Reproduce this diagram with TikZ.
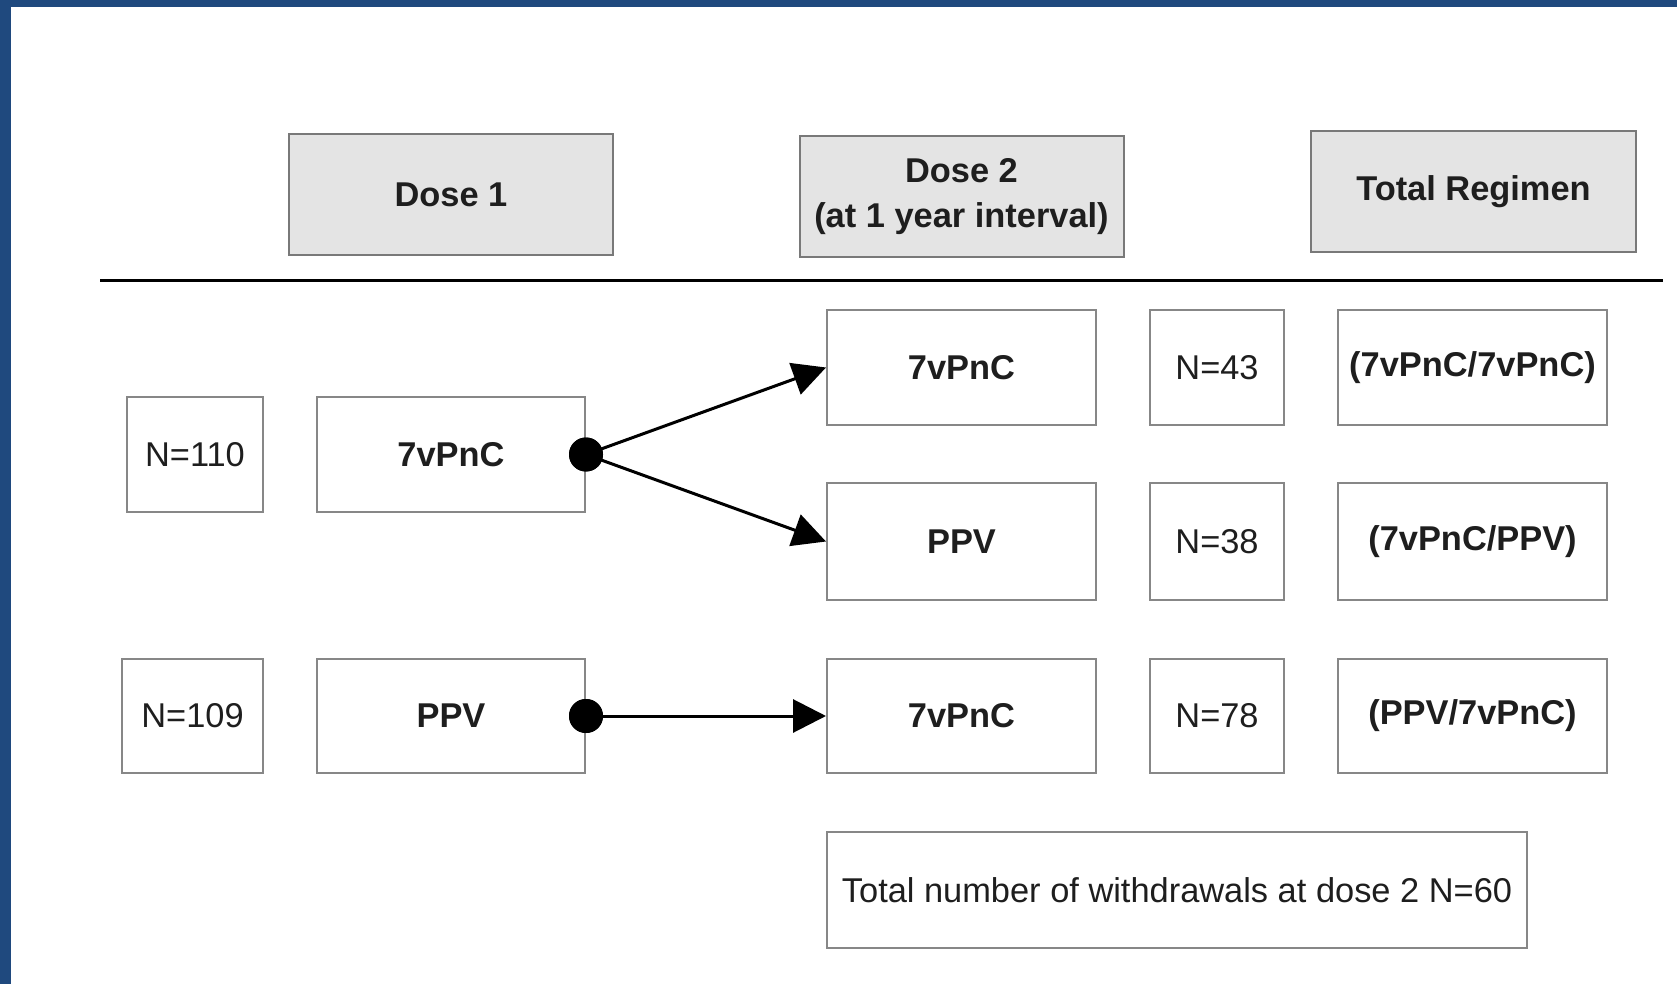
\documentclass[tikz,border=0pt]{standalone}
\usepackage{fontspec}
\setmainfont{Liberation Sans}
\usetikzlibrary{arrows.meta}
\definecolor{frameblue}{RGB}{31,73,126}
\definecolor{boxline}{RGB}{135,135,135}
\definecolor{headfill}{RGB}{228,228,228}
\definecolor{txt}{RGB}{30,30,30}
\begin{document}
\begin{tikzpicture}[x=0.5pt,y=-0.5pt,
  box/.style={draw=boxline, line width=1pt, fill=white, inner sep=0pt, align=center, text=txt, font=\fontsize{17.2}{22.5}\selectfont},
  boldbox/.style={box, font=\fontsize{17.2}{22.5}\selectfont\bfseries},
  headbox/.style={boldbox, fill=headfill, draw=boxline!90!black, minimum width=162pt, minimum height=60.5pt},
  colbox/.style={boldbox, minimum width=134.5pt},
  nbox/.style={box, minimum width=67pt},
  dotnode/.style={circle, fill=black, minimum size=17pt, inner sep=0pt},
  arr/.style={line width=1.5pt, -{Triangle[length=16.5pt, width=16.5pt]}}
]
\useasboundingbox (0,0) rectangle (1677,984);
\fill[white] (0,0) rectangle (1677,984);
\fill[frameblue] (0,0) rectangle (1677,7);
\fill[frameblue] (0,0) rectangle (11,984);

% headers
\node[headbox] (d1h) at (451,194.5) {Dose 1};
\node[headbox] (d2h) at (961.5,196.5) {Dose 2\\(at 1 year interval)};
\node[headbox, minimum width=162.5pt] (trh) at (1473.5,191.5) {Total Regimen};
\coordinate (ls) at (100,281);
\coordinate (le) at (1663,281);
\draw[line width=1.5pt, black] (ls) -- (le);

% dose 1 column
\node[box, minimum width=68pt, minimum height=57.5pt] (n110) at (195,454.5) {N=110};
\node[boldbox, minimum width=134pt, minimum height=57.5pt] (d1a) at (451,454.5) {7vPnC};
\node[box, minimum width=70.5pt, minimum height=57pt] (n109) at (192.5,716) {N=109};
\node[boldbox, minimum width=134pt, minimum height=57pt] (d1b) at (451,716) {PPV};

% dose 2 column
\node[colbox, minimum height=57.5pt] (r1) at (961.5,367.5) {7vPnC};
\node[colbox, minimum height=58.5pt] (r2) at (961.5,541.5) {PPV};
\node[colbox, minimum height=57pt] (r3) at (961.5,716) {7vPnC};

% N column
\node[nbox, minimum height=57.5pt] (n43) at (1217,367.5) {N=43};
\node[nbox, minimum height=58.5pt] (n38) at (1217,541.5) {N=38};
\node[nbox, minimum height=57pt] (n78) at (1217,716) {N=78};

% total regimen column
\node[colbox, minimum height=57.5pt] (t1) at (1472.5,367.5) {(7vPnC/7vPnC)};
\node[colbox, minimum height=58.5pt] (t2) at (1472.5,541.5) {(7vPnC/PPV)};
\node[colbox, minimum height=57pt] (t3) at (1472.5,716) {(PPV/7vPnC)};

% withdrawals
\node[box, minimum width=350pt, minimum height=58pt] (wd) at (1177,890) {Total number of withdrawals at dose 2 N=60};

% connectors
\node[dotnode] (p1) at (d1a.east) {};
\node[dotnode] (p2) at (d1b.east) {};
\draw[arr] (p1.center) -- (r1.west);
\draw[arr] (p1.center) -- (r2.west);
\draw[arr] (p2.center) -- (r3.west);
\node[dotnode] at (p1) {};
\node[dotnode] at (p2) {};
\end{tikzpicture}
\end{document}
